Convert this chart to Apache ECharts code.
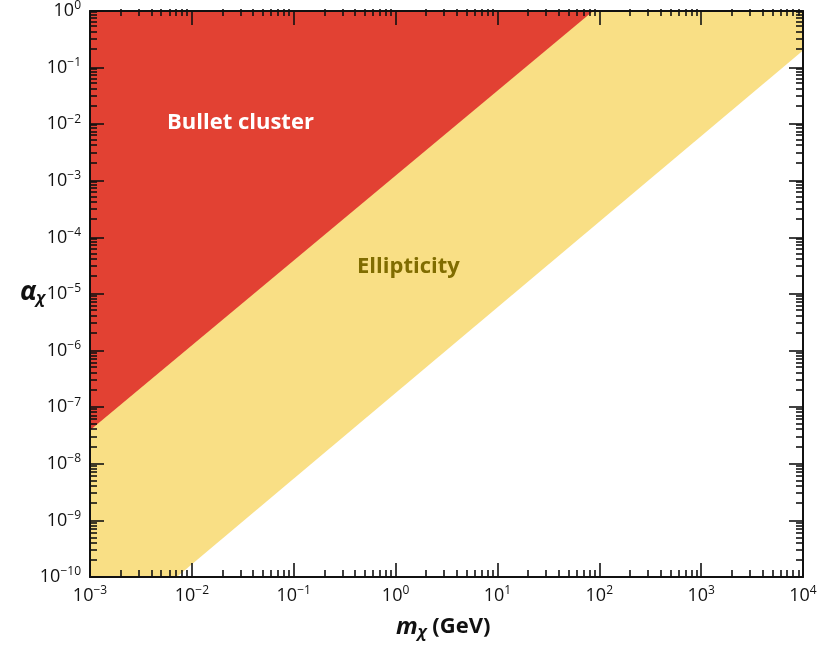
<!DOCTYPE html>
<html><head><meta charset="utf-8">
<script src="https://cdn.jsdelivr.net/npm/echarts@6/dist/echarts.min.js"></script>
<style>html,body{margin:0;padding:0;background:#fff}#c{width:820px;height:647px}</style>
</head><body><div id="c"></div>
<script>
// ---- data ----
const xMajorTicks = [1e-3, 1e-2, 1e-1, 1, 10, 100, 1000, 10000];
const xTickExponents = ['−3', '−2', '−1', '0', '1', '2', '3', '4'];
const yMajorTicks = [1e-10, 1e-9, 1e-8, 1e-7, 1e-6, 1e-5, 1e-4, 1e-3, 1e-2, 1e-1, 1];
const yTickExponents = ['−10', '−9', '−8', '−7', '−6', '−5', '−4', '−3', '−2', '−1', '0'];
// excluded regions (vertices in m_chi [GeV], alpha_chi)
const ellipticityRegion = [[1e-3, 1], [1e-3, 1e-10], [7.1e-3, 1e-10], [1e4, 0.2], [1e4, 1]];
const bulletClusterRegion = [[1e-3, 1], [1e-3, 3.9e-8], [87, 1]];
const regionNames = ['Ellipticity', 'Bullet cluster'];

const xMinorTicks = [];
for (let e = -3; e < 4; e++) for (let k = 2; k <= 9; k++) xMinorTicks.push(k * Math.pow(10, e));
const yMinorTicks = [];
for (let e = -10; e < 0; e++) for (let k = 2; k <= 9; k++) yMinorTicks.push(k * Math.pow(10, e));

const FONT = "'Open Sans', 'DejaVu Sans', sans-serif";
const chart = echarts.init(document.getElementById('c'));

function expLabel(ticks, exps) {
  return function (v) {
    const i = ticks.findIndex(t => Math.abs(Math.log10(t) - Math.log10(v)) < 1e-6);
    if (i < 0) return '';
    return '{b|10}{s|' + exps[i] + '}';
  };
}
const richLbl = {
  b: { fontFamily: FONT, fontSize: 18, color: '#111', lineHeight: 22 },
  s: { fontFamily: FONT, fontSize: 12, color: '#111', padding: [0, 0, 10, 0], lineHeight: 22 }
};
const lineStyle = { color: '#111', width: 2 };
function xAxisDef(grid, pos, major) {
  return {
    type: 'log', logBase: 10, gridIndex: grid, position: pos, min: 1e-3, max: 1e4, z: 10,
    axisLine: { show: major, onZero: false, lineStyle: lineStyle },
    axisTick: { show: true, inside: true, length: major ? 14 : 7, customValues: major ? xMajorTicks : xMinorTicks,
      lineStyle: { color: '#111', width: 1.6 } },
    axisLabel: major && pos === 'bottom' ? { show: true, margin: 8, customValues: xMajorTicks,
      formatter: expLabel(xMajorTicks, xTickExponents), rich: richLbl } : { show: false },
    splitLine: { show: false }, minorTick: { show: false }
  };
}
function yAxisDef(grid, pos, major) {
  return {
    type: 'log', logBase: 10, gridIndex: grid, position: pos, min: 1e-10, max: 1, z: 10,
    axisLine: { show: major, onZero: false, lineStyle: lineStyle },
    axisTick: { show: true, inside: true, length: major ? 14 : 7, customValues: major ? yMajorTicks : yMinorTicks,
      lineStyle: { color: '#111', width: 1.6 } },
    axisLabel: major && pos === 'left' ? { show: true, margin: 9, customValues: yMajorTicks,
      formatter: expLabel(yMajorTicks, yTickExponents), rich: richLbl } : { show: false },
    splitLine: { show: false }, minorTick: { show: false }
  };
}
const gridRect = { left: 90, right: 17, top: 9, bottom: 70, containLabel: false };

function regionSeries(name, region, color, z) {
  return {
    type: 'custom', name: name, xAxisIndex: 0, yAxisIndex: 0, z: z,
    data: region, encode: { x: 0, y: 1 }, clip: true,
    renderItem: function (params, api) {
      if (params.dataIndex !== 0) return null;
      const pts = region.map(p => api.coord(p));
      return { type: 'polygon', shape: { points: pts }, style: { fill: color } };
    }
  };
}

chart.setOption({
  animation: false,
  backgroundColor: '#fff',
  grid: [Object.assign({}, gridRect), Object.assign({}, gridRect)],
  xAxis: [xAxisDef(0, 'bottom', true), xAxisDef(0, 'top', true), xAxisDef(1, 'bottom', false), xAxisDef(1, 'top', false)],
  yAxis: [yAxisDef(0, 'left', true), yAxisDef(0, 'right', true), yAxisDef(1, 'left', false), yAxisDef(1, 'right', false)],
  series: [
    regionSeries(regionNames[0], ellipticityRegion, '#f9df85', 1),
    regionSeries(regionNames[1], bulletClusterRegion, '#e24133', 2)
  ],
  graphic: [
    { type: 'text', left: 167, top: 112, z: 100, style: { text: 'Bullet cluster', fill: '#fff',
      font: 'bold 22px ' + FONT } },
    { type: 'text', left: 357, top: 256, z: 100, style: { text: 'Ellipticity', fill: '#806c00',
      font: 'bold 22px ' + FONT } },
    { type: 'text', left: 396, top: 614, z: 100, style: {
      text: '{m|m}{c|χ}{g| (GeV)}',
      rich: {
        m: { fontFamily: FONT, fontSize: 24, fontWeight: 'bold', fontStyle: 'italic', fill: '#111', lineHeight: 30 },
        c: { fontFamily: FONT, fontSize: 16, fontWeight: 'bold', fontStyle: 'italic', fill: '#111', padding: [10, 0, 0, 0], lineHeight: 30 },
        g: { fontFamily: FONT, fontSize: 22, fontWeight: 'bold', fill: '#111', lineHeight: 30 }
      } } },
    { type: 'text', left: 20, top: 278, z: 100, style: {
      text: '{a|α}{c|χ}',
      rich: {
        a: { fontFamily: FONT, fontSize: 27, fontWeight: 'bold', fontStyle: 'italic', fill: '#111', lineHeight: 32 },
        c: { fontFamily: FONT, fontSize: 16, fontWeight: 'bold', fontStyle: 'italic', fill: '#111', padding: [12, 0, 0, 0], lineHeight: 32 }
      } } }
  ]
});
</script></body></html>
